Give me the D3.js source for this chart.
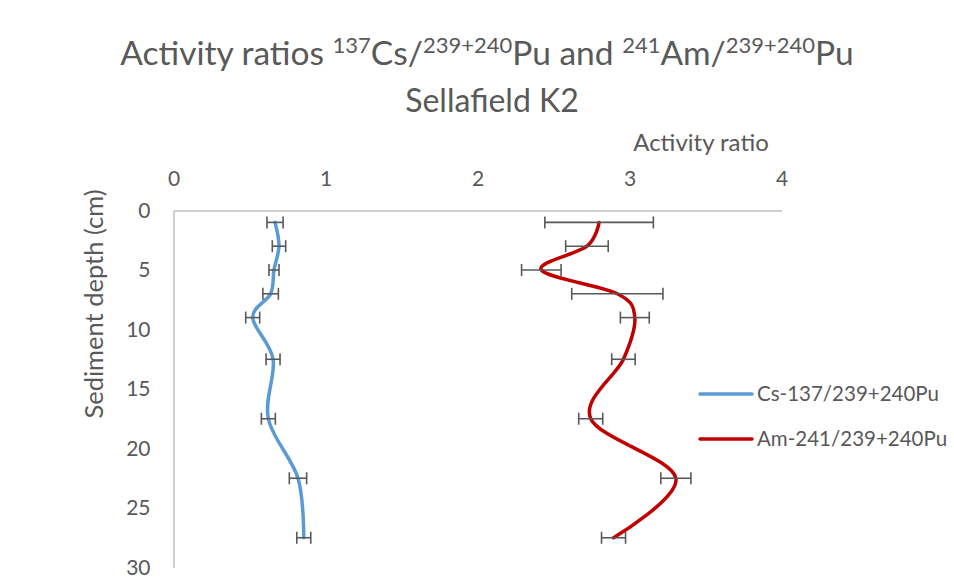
<!DOCTYPE html>
<html>
<head>
<meta charset="utf-8">
<script src="https://cdn.jsdelivr.net/npm/d3@7"></script>
<style>
  html, body { margin: 0; padding: 0; background: #fff; }
  svg { display: block; }
  text { font-family: Lato, "Open Sans", sans-serif; fill: #595959; }
</style>
</head>
<body>
<svg id="chart" width="954" height="581"></svg>
<script>
// Sediment depth of each slice (cm)
const depths = [1, 3, 5, 7, 9, 12.5, 17.5, 22.5, 27.5];
// 137Cs / 239+240Pu activity ratio and its uncertainty
const csRatio = [0.668, 0.694, 0.661, 0.639, 0.521, 0.655, 0.624, 0.819, 0.857];
const csError = [0.053, 0.044, 0.033, 0.051, 0.046, 0.046, 0.046, 0.057, 0.046];
// 241Am / 239+240Pu activity ratio and its uncertainty
const amRatio = [2.80, 2.72, 2.42, 2.92, 3.035, 2.96, 2.745, 3.305, 2.895];
const amError = [0.357, 0.14, 0.13, 0.30, 0.095, 0.077, 0.079, 0.099, 0.079];

const xTicks = [0, 1, 2, 3, 4];
const yTicks = [0, 5, 10, 15, 20, 25, 30];
const seriesNames = ["Cs-137/239+240Pu", "Am-241/239+240Pu"];
const seriesColors = ["#5B9BD5", "#C00000"];

const svg = d3.select("#chart");

const plot = { left: 173.5, top: 210.5, right: 781.5, bottom: 567.5 };
const x = d3.scaleLinear().domain([0, 4]).range([plot.left, plot.right]);
const y = d3.scaleLinear().domain([0, 30]).range([plot.top, plot.bottom]);

// Title with superscript isotope masses
const title = svg.append("text")
  .attr("x", 487).attr("y", 65)
  .attr("text-anchor", "middle")
  .style("font-size", "33.5px");
const parts = [
  ["Activity ratios ", false], ["137", true], ["Cs/", false], ["239+240", true],
  ["Pu and ", false], ["241", true], ["Am/", false], ["239+240", true], ["Pu", false]
];
let raised = false;
parts.forEach(([t, sup]) => {
  const ts = title.append("tspan").text(t);
  if (sup) {
    ts.style("font-size", "22px");
    if (!raised) { ts.attr("dy", "-12"); raised = true; }
  } else if (raised) {
    ts.attr("dy", "12"); raised = false;
  }
});
svg.append("text")
  .attr("x", 492).attr("y", 112)
  .attr("text-anchor", "middle")
  .style("font-size", "32px")
  .text("Sellafield K2");

// Axes
const xAxis = d3.axisTop(x).tickValues(xTicks).tickFormat(d3.format("d"))
  .tickSize(0).tickPadding(25).tickSizeOuter(0);
const yAxis = d3.axisLeft(y).tickValues(yTicks).tickFormat(d3.format("d"))
  .tickSize(0).tickPadding(23).tickSizeOuter(0);

const gx = svg.append("g").attr("transform", `translate(0,${plot.top})`).call(xAxis);
const gy = svg.append("g").attr("transform", `translate(${plot.left},0)`).call(yAxis);
[gx, gy].forEach(g => {
  g.select(".domain").attr("stroke", "#BFBFBF").attr("stroke-width", 1.5);
  g.selectAll("text").style("font-size", "21px").style("font-family", "Lato, sans-serif").attr("fill", "#595959");
});

svg.append("text")
  .attr("x", 701).attr("y", 151)
  .attr("text-anchor", "middle")
  .style("font-size", "24px")
  .text("Activity ratio");

svg.append("text")
  .attr("transform", "translate(103,304) rotate(-90)")
  .attr("text-anchor", "middle")
  .style("font-size", "25.5px")
  .text("Sediment depth (cm)");

// Smoothed series lines
const line = d3.line()
  .x(d => x(d.v))
  .y(d => y(d.depth))
  .curve(d3.curveCatmullRom.alpha(0));

const series = [
  depths.map((d, i) => ({ depth: d, v: csRatio[i], e: csError[i] })),
  depths.map((d, i) => ({ depth: d, v: amRatio[i], e: amError[i] }))
];

series.forEach((s, k) => {
  svg.append("path")
    .datum(s)
    .attr("fill", "none")
    .attr("stroke", seriesColors[k])
    .attr("stroke-width", 3.5)
    .attr("stroke-linecap", "round")
    .attr("d", line);
});

// Horizontal error bars
series.forEach(s => {
  const g = svg.append("g").attr("stroke", "#595959").attr("stroke-width", 1.6).attr("fill", "none");
  s.forEach(d => {
    const cy = y(d.depth);
    const x0 = x(d.v - d.e), x1 = x(d.v + d.e);
    g.append("line").attr("x1", x0).attr("x2", x1).attr("y1", cy).attr("y2", cy);
    g.append("line").attr("x1", x0).attr("x2", x0).attr("y1", cy - 6).attr("y2", cy + 6);
    g.append("line").attr("x1", x1).attr("x2", x1).attr("y1", cy - 6).attr("y2", cy + 6);
  });
});

// Legend
const legend = svg.append("g");
seriesNames.forEach((name, k) => {
  const ly = 394 + k * 45;
  legend.append("line")
    .attr("x1", 700).attr("x2", 752).attr("y1", ly).attr("y2", ly)
    .attr("stroke", seriesColors[k]).attr("stroke-width", 3.5).attr("stroke-linecap", "round");
  legend.append("text")
    .attr("x", 757).attr("y", ly).attr("dy", "0.35em")
    .style("font-size", "20.5px")
    .text(name);
});
</script>
</body>
</html>
